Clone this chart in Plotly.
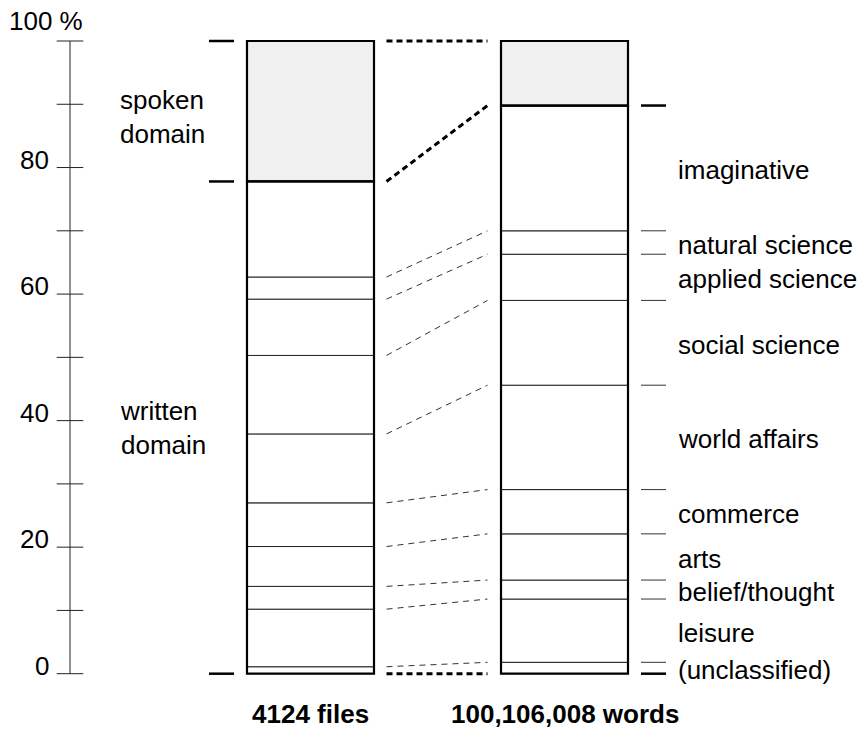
import numpy as np
import plotly.graph_objects as go

# ---------------- data (percent shares, bottom to top) ----------------
categories = ["(unclassified)", "leisure", "belief/thought", "arts", "commerce",
              "world affairs", "social science", "applied science",
              "natural science", "imaginative"]
files_written_share = [1.1, 9.1, 3.6, 6.3, 6.9, 10.9, 12.4, 8.9, 3.5, 15.1]
files_spoken_share = 22.2
words_written_share = [1.8, 10.0, 3.0, 7.3, 7.0, 16.5, 13.4, 7.3, 3.7, 19.8]
words_spoken_share = 10.2
bar_labels = ["4124 files", "100,106,008 words"]
domain_labels = ["spoken<br>domain", "written<br>domain"]
tick_values = [0, 10, 20, 30, 40, 50, 60, 70, 80, 90, 100]
tick_labels = ["0", "", "20", "", "40", "", "60", "", "80", "", "100 %"]

# ---------------- layout constants (pixel-like x units) ----------------
W, H = 866, 730
FONT = "Liberation Sans, Arial, sans-serif"
FS = 26
AXIS_X = 70
LEFT_C, RIGHT_C, BAR_W = 310.5, 564.5, 127
LINK_X0, LINK_X1 = 386.5, 487.5
LMARK = (209, 234)
RMARK = (641, 666)


def bounds(written, spoken):
    w = np.concatenate([[0.0], np.cumsum(written)])
    return w, w[-1] + spoken


f_b, f_top = bounds(files_written_share, files_spoken_share)
w_b, w_top = bounds(words_written_share, words_spoken_share)

fig = go.Figure()

# segment bars (thin internal lines)
for xc, shares, b, sp in [(LEFT_C, files_written_share, f_b, files_spoken_share),
                          (RIGHT_C, words_written_share, w_b, words_spoken_share)]:
    ys = list(shares) + [sp]
    bases = list(b[:-1]) + [b[-1]]
    colors = ["white"] * len(shares) + ["#f0f0f0"]
    fig.add_trace(go.Bar(x=[xc] * len(ys), y=ys, base=bases, width=BAR_W,
                         marker=dict(color=colors, line=dict(color="#222", width=1))))
    # thick outlines of written and spoken domains
    fig.add_trace(go.Bar(x=[xc, xc], y=[b[-1], sp], base=[0, b[-1]], width=BAR_W,
                         marker=dict(color="rgba(0,0,0,0)", line=dict(color="black", width=2.2))))

# connecting lines between boundaries
xs, ys = [], []
for a, c in zip(f_b[1:-1], w_b[1:-1]):
    xs += [LINK_X0, LINK_X1, None]
    ys += [a, c, None]
fig.add_trace(go.Scatter(x=xs, y=ys, mode="lines",
                         line=dict(color="#333", width=1, dash="6px,5px")))
xs, ys = [], []
for a, c in [(f_b[0], w_b[0]), (f_b[-1], w_b[-1]), (f_top, w_top)]:
    xs += [LINK_X0, LINK_X1, None]
    ys += [a, c, None]
fig.add_trace(go.Scatter(x=xs, y=ys, mode="lines",
                         line=dict(color="black", width=3, dash="6px,4px")))

# side marks, left bar (thick at 0, domain boundary, top)
xs, ys = [], []
for v in [f_b[0], f_b[-1], f_top]:
    xs += [LMARK[0], LMARK[1], None]
    ys += [v, v, None]
fig.add_trace(go.Scatter(x=xs, y=ys, mode="lines", line=dict(color="black", width=2.5)))

# side marks, right bar
xs, ys = [], []
for v in w_b[1:-1]:
    xs += [RMARK[0], RMARK[1], None]
    ys += [v, v, None]
fig.add_trace(go.Scatter(x=xs, y=ys, mode="lines", line=dict(color="#333", width=1)))
xs, ys = [], []
for v in [w_b[0], w_b[-1]]:
    xs += [RMARK[0], RMARK[1], None]
    ys += [v, v, None]
fig.add_trace(go.Scatter(x=xs, y=ys, mode="lines", line=dict(color="black", width=2.5)))

# left percentage axis
fig.add_trace(go.Scatter(x=[AXIS_X, AXIS_X], y=[min(tick_values), max(tick_values)],
                         mode="lines", line=dict(color="#222", width=1)))
fig.add_trace(go.Scatter(x=[AXIS_X] * len(tick_values), y=tick_values, mode="markers",
                         marker=dict(symbol="line-ew", size=19,
                                     line=dict(color="#222", width=1))))

annotations = []
for v, t in zip(tick_values, tick_labels):
    if not t:
        continue
    if v == 100:
        annotations.append(dict(x=85, y=v, text=t, xanchor="right", yanchor="middle",
                                yshift=20, showarrow=False))
    else:
        annotations.append(dict(x=51, y=v, text=t, xanchor="right", yanchor="middle",
                                yshift=8, showarrow=False))

# domain labels
annotations.append(dict(x=118, y=(f_b[-1] + f_top) / 2, text=domain_labels[0],
                        xanchor="left", yanchor="middle", align="left",
                        yshift=-6, showarrow=False))
annotations.append(dict(x=118, y=f_b[-1] / 2, text=domain_labels[1],
                        xanchor="left", yanchor="middle", align="left", showarrow=False))

# category labels to the right
for name, lo, hi in zip(categories, w_b[:-1], w_b[1:]):
    annotations.append(dict(x=676, y=(lo + hi) / 2, text=name, xanchor="left",
                            yanchor="middle", yshift=-2, showarrow=False))

# bottom labels
for xc, t in zip([LEFT_C, RIGHT_C], bar_labels):
    annotations.append(dict(x=xc, y=0, yshift=-40, text="<b>" + t + "</b>",
                            xanchor="center", yanchor="middle", showarrow=False))

px_per_pct = 6.327
y0_px = 673.7
ymin = -(H - y0_px) / px_per_pct
ymax = ymin + H / px_per_pct

fig.update_layout(
    width=W, height=H, margin=dict(l=0, r=0, t=0, b=0),
    paper_bgcolor="white", plot_bgcolor="white",
    barmode="overlay", showlegend=False, hovermode=False,
    font=dict(family=FONT, size=FS, color="black"),
    xaxis=dict(range=[0, W], visible=False, fixedrange=True),
    yaxis=dict(range=[ymin, ymax], visible=False, fixedrange=True),
    annotations=annotations,
)

fig.write_html("out.html", config={"displayModeBar": False},
               post_script="document.body.style.margin='0';document.body.style.overflow='hidden';")
